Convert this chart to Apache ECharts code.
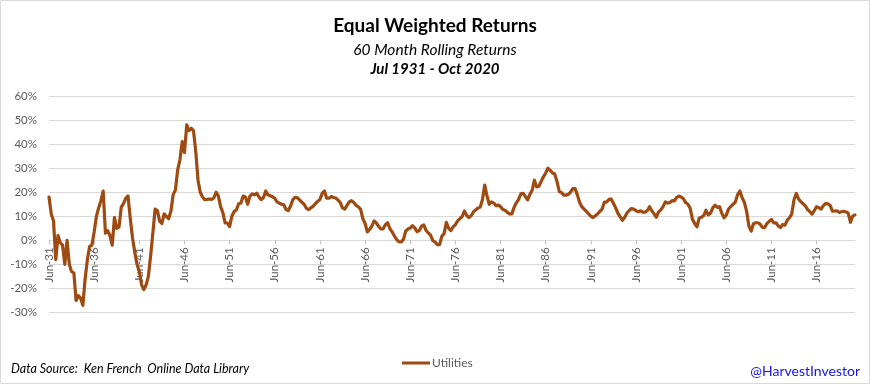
<!DOCTYPE html>
<html>
<head>
<meta charset="utf-8">
<script src="https://cdn.jsdelivr.net/npm/echarts@6/dist/echarts.min.js"></script>
<style>
html,body{margin:0;padding:0;background:#fff;}
#chart{width:870px;height:384px;}
</style>
</head>
<body>
<div id="chart"></div>
<script>
// Quarterly samples of the 60-month rolling return (%), Jun-31 .. Sep-20
var startMonth = 6, startYear = 1931, stepMonths = 3;
var monthNames = ['Jan','Feb','Mar','Apr','May','Jun','Jul','Aug','Sep','Oct','Nov','Dec'];
var seriesName = 'Utilities';
var utilities = [
  18, 11, 8, -8, 2, -1, -2, -10, 0, -10,
  -13, -13.5, -25, -23, -24, -27, -16, -8, -2.5, -2,
  3.5, 10, 13.5, 16.5, 20.5, 3, 4, 2, -2, 9.5,
  5, 5.5, 13.8, 15.3, 17.5, 18.5, 9, 1, -5, -10,
  -13, -18.5, -20.5, -18.6, -15, -6.5, 3, 13, 12.4, 8,
  7, 11, 9.9, 9, 12.2, 19, 21, 29.3, 33.5, 41,
  36.5, 48, 45.6, 46.6, 45.6, 37, 25, 20, 18, 16.9,
  17, 17.2, 17, 17.6, 20, 18.5, 14, 11.5, 7.2, 7.2,
  5.7, 10, 12, 12.6, 15.2, 15.5, 18.4, 18, 15, 18.4,
  19.3, 18.9, 19.6, 18, 16.9, 17.8, 20.5, 18.9, 18.5, 18.1,
  17.5, 16, 15.5, 15, 14.8, 12.8, 12.4, 14.3, 16.9, 17.9,
  17.7, 16.8, 15.8, 15, 13.3, 12.8, 13.5, 14.2, 15.3, 16.2,
  17, 19.5, 20.5, 17.5, 17.5, 18.2, 17.8, 17.6, 16.8, 15.7,
  13.5, 13, 14.5, 16, 16.5, 15.7, 14.6, 13.9, 13, 9,
  7, 3.5, 4.5, 5.9, 8.1, 7.2, 5.8, 4.7, 4.8, 6.5,
  7.3, 4.8, 3.5, 1.8, 0.3, -0.6, -0.7, 0.4, 3.8, 4.7,
  5.1, 6.1, 5.2, 3.6, 4.1, 5.9, 6.4, 4.1, 3.1, 2.2,
  -0.1, -0.7, -1.8, -1.8, 1.7, 2.8, 7.5, 5, 4.1, 5.6,
  6.5, 8.1, 9, 9.9, 12.2, 10.4, 9.5, 10.2, 11.8, 12.7,
  13.4, 13.8, 17, 23, 18.5, 15, 16, 15.5, 14.4, 14.7,
  14, 12.8, 12.5, 11.6, 11, 11, 13.7, 15.6, 17, 19.3,
  19.5, 18.2, 16.8, 19.1, 20.8, 25, 22.2, 22.5, 24.5, 26.4,
  28, 30, 29.1, 28, 27.6, 24.5, 20.3, 19.8, 18.8, 18.8,
  19.1, 20, 21.5, 21.5, 19, 15.8, 14, 13, 12, 11,
  10, 9.5, 10.2, 11, 12, 13, 15.9, 15.9, 17, 17.2,
  15.4, 13.5, 11.2, 9.8, 8.3, 9.6, 11.4, 12.4, 13.2, 13,
  12.3, 11.9, 12.3, 11.7, 11.7, 12.3, 14, 12.3, 11, 9.6,
  11.8, 12.7, 14, 16, 15.5, 15.7, 16.5, 16.4, 17.8, 18.4,
  18, 17.3, 15.7, 15, 13.3, 8.8, 7, 5.6, 9.3, 9.6,
  10.3, 12.5, 10.6, 11.3, 13.5, 14.6, 13.7, 14, 11.3, 9.4,
  10.5, 13, 14.1, 15, 15.9, 19, 20.5, 17.7, 15.8, 12,
  6, 3.8, 6.9, 7.3, 7.3, 6.7, 5.4, 5.3, 7, 7.9,
  8.7, 7.2, 7.3, 6, 5.3, 6.6, 6.3, 8.4, 9.4, 11,
  17, 19.5, 17.2, 16.1, 15.2, 14.3, 12.8, 11.9, 10.9, 12.4,
  14, 13.6, 13, 14.4, 15.3, 15.2, 14.5, 12.1, 12.2, 12.3,
  11.6, 11.9, 12.1, 11.8, 11.3, 7.5, 10.1, 10.6
];
var titleText = 'Equal Weighted Returns';
var subtitleText = '60 Month Rolling Returns';
var periodText = 'Jul 1931 - Oct 2020';
var sourceText = 'Data Source:  Ken French  Online Data Library';
var handleText = '@HarvestInvestor';

// category labels (quarter-end month labels)
var categories = [];
for (var i = 0; i < utilities.length; i++) {
  var m = (startMonth - 1) + i * stepMonths;
  var y = startYear + Math.floor(m / 12);
  categories.push(monthNames[m % 12] + '-' + String(y % 100).padStart(2, '0'));
}

var yMin = -30, yMax = 60;
var gridTop = 96, gridBottom = 71.5, chartH = 384;
var plotH = chartH - gridTop - gridBottom;
// shift the category axis up so it sits on the 0% line
var zeroOffset = -plotH * (0 - yMin) / (yMax - yMin);

var FONT = 'Lato, "Open Sans", sans-serif';
var chart = echarts.init(document.getElementById('chart'), null, {renderer: 'canvas'});
chart.setOption({
  animation: false,
  backgroundColor: '#ffffff',
  title: [
    {text: titleText, left: 'center', top: 11,
      textStyle: {fontFamily: FONT, fontSize: 19, fontWeight: 'bold', color: '#000'}},
    {text: subtitleText, left: 'center', top: 37,
      textStyle: {fontFamily: FONT, fontSize: 15.5, fontStyle: 'italic', fontWeight: 'normal', color: '#000'}},
    {text: periodText, left: 'center', top: 57,
      textStyle: {fontFamily: FONT, fontSize: 15, fontStyle: 'italic', fontWeight: 'bold', color: '#000'}}
  ],
  grid: {left: 49, right: 15, top: gridTop, bottom: gridBottom, containLabel: false},
  legend: {
    data: [seriesName], left: 397, top: 352,
    icon: 'rect', itemWidth: 28, itemHeight: 3, itemGap: 10,
    textStyle: {fontFamily: FONT, fontSize: 12, color: '#595959', padding: [0, 0, 0, -3]}
  },
  xAxis: {
    type: 'category', data: categories, boundaryGap: false,
    offset: zeroOffset,
    axisLine: {onZero: false, lineStyle: {color: '#d9d9d9', width: 1}},
    axisTick: {show: true, interval: 19, length: 4, lineStyle: {color: '#bfbfbf'}},
    axisLabel: {interval: 19, rotate: 90, margin: 7, fontFamily: FONT, fontSize: 11.5, color: '#595959'},
    splitLine: {show: false}
  },
  yAxis: {
    type: 'value', min: yMin, max: yMax, interval: 10,
    axisLine: {show: false}, axisTick: {show: false},
    axisLabel: {formatter: '{value}%', margin: 12, fontFamily: FONT, fontSize: 11.5, color: '#595959'},
    splitLine: {lineStyle: {color: '#d9d9d9', width: 1}}
  },
  series: [{
    name: seriesName, type: 'line', data: utilities, z: 3,
    showSymbol: false, symbol: 'none',
    lineStyle: {color: '#9e4a10', width: 3.2, join: 'round', cap: 'round'},
    itemStyle: {color: '#9e4a10'}
  }],
  graphic: [
    {type: 'rect', shape: {x: 0.5, y: 0.5, width: 869, height: 383}, style: {fill: 'none', stroke: '#d9d9d9', lineWidth: 1}, silent: true},
    {type: 'text', left: 11, top: 362, style: {text: sourceText, font: 'italic 12.5px ' + FONT, fill: '#000'}},
    {type: 'text', right: 10, top: 364, style: {text: handleText, font: '14px ' + FONT, fill: '#1414ee'}}
  ]
});
</script>
</body>
</html>
